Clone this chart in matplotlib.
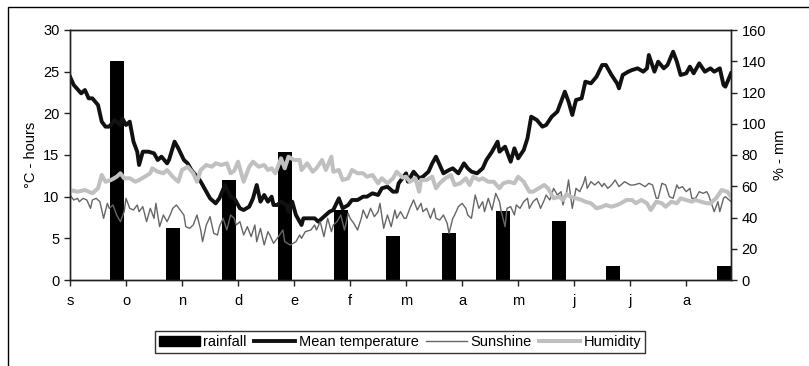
import matplotlib
matplotlib.use("Agg")
import matplotlib.pyplot as plt
from matplotlib.patches import Rectangle, Patch
from matplotlib.lines import Line2D

plt.rcParams['font.family'] = ['Liberation Sans', 'DejaVu Sans']

# ---- data (day since 1 Sep, value) ----
month_labels = ['s', 'o', 'n', 'd', 'e', 'f', 'm', 'a', 'm', 'j', 'j', 'a']
month_ticks = [0, 30, 60, 90, 120, 150, 180, 210, 240, 270, 300, 330]

rain_days = [25, 55, 85, 115, 145, 173, 203, 232, 262, 291, 350]
rain_mm = [140, 33, 64, 82, 45, 28, 30, 44, 38, 9, 9]

temp_points = [
    (0, 24.4), (2, 23.4), (6, 22.4), (8, 22.8), (10, 21.8), (12, 21.8), (15, 21.0),
    (17, 19.0), (19, 18.4), (21, 18.4), (24, 19.2), (27, 18.6), (28, 19.4), (30, 18.6),
    (32, 19.0), (34, 16.6), (36, 15.4), (37, 13.8), (39, 15.4), (42, 15.4), (45, 15.2),
    (47, 14.4), (49, 14.8), (52, 14.0), (53, 14.4), (56, 16.6), (58, 15.8), (61, 14.4),
    (63, 14.0), (65, 13.2), (68, 12.4), (70, 11.8), (72, 11.0), (75, 9.8), (78, 9.2),
    (80, 9.8), (83, 11.4), (86, 10.0), (88, 9.8), (91, 8.6), (93, 8.4), (96, 8.8),
    (98, 9.8), (100, 11.4), (102, 9.4), (104, 10.2), (106, 9.4), (108, 10.0), (109, 9.0),
    (111, 9.0), (113, 9.4), (116, 9.0), (117, 8.2), (119, 9.4), (121, 7.8), (124, 6.6),
    (125, 7.4), (128, 7.4), (131, 7.4), (133, 7.0), (136, 7.6), (139, 8.2), (141, 8.4),
    (144, 9.8), (146, 8.6), (149, 9.0), (151, 9.6), (154, 9.6), (157, 10.0), (159, 10.0),
    (162, 10.4), (165, 10.2), (167, 11.0), (170, 11.2), (173, 10.6), (175, 10.6),
    (176, 11.6), (180, 12.8), (181, 11.8), (184, 13.0), (187, 12.2), (189, 12.4),
    (192, 13.0), (194, 14.0), (196, 14.8), (198, 13.8), (200, 12.8), (203, 13.2),
    (205, 13.4), (208, 12.8), (211, 14.0), (213, 13.4), (215, 13.0), (218, 12.8),
    (221, 13.4), (223, 14.4), (226, 15.4), (229, 16.6), (230, 15.4), (233, 16.0),
    (236, 14.2), (238, 15.8), (240, 14.6), (243, 15.6), (245, 17.0), (247, 19.6),
    (250, 19.2), (253, 18.4), (255, 18.6), (258, 19.6), (261, 20.2), (263, 21.4),
    (265, 22.6), (267, 21.4), (269, 19.8), (271, 21.6), (274, 21.8), (276, 23.8),
    (279, 23.6), (282, 24.4), (285, 25.8), (287, 25.8), (290, 24.6), (293, 23.6),
    (294, 23.0), (296, 24.6), (299, 25.0), (301, 25.2), (304, 25.4), (307, 25.0),
    (309, 25.4), (310, 27.0), (313, 25.0), (315, 26.2), (318, 25.4), (320, 25.8),
    (323, 27.4), (325, 26.2), (327, 24.6), (330, 24.8), (332, 25.6), (334, 24.8),
    (337, 26.0), (340, 25.0), (343, 25.4), (345, 25.0), (348, 25.4), (350, 23.4),
    (351, 23.2), (354, 24.8),
]

sun_points = [
    (0, 10.2), (2, 9.6), (4, 9.8), (5, 9.4), (7, 9.8), (9, 9.6), (11, 8.6), (12, 9.6),
    (14, 9.8), (16, 9.4), (18, 7.4), (20, 9.2), (21, 8.6), (23, 9.0), (25, 7.8), (27, 7.0),
    (29, 8.2), (30, 9.8), (32, 8.6), (34, 8.4), (36, 9.0), (37, 8.2), (39, 8.8), (41, 7.0),
    (43, 8.6), (45, 7.4), (46, 9.2), (48, 6.4), (50, 7.8), (52, 7.0), (54, 8.0), (55, 8.6),
    (57, 9.0), (59, 8.4), (61, 7.8), (62, 6.4), (64, 6.2), (66, 6.6), (68, 7.8), (70, 6.0),
    (71, 4.6), (73, 6.6), (75, 7.6), (77, 5.6), (79, 5.4), (80, 6.4), (82, 7.4), (84, 6.0),
    (86, 7.8), (88, 7.4), (89, 6.6), (91, 7.0), (93, 5.4), (95, 6.4), (97, 5.2), (99, 6.6),
    (100, 4.6), (102, 6.2), (104, 4.2), (106, 5.8), (107, 5.4), (109, 4.4), (111, 5.0),
    (114, 6.0), (115, 4.6), (118, 4.2), (121, 4.6), (123, 5.4), (124, 5.0), (126, 5.8),
    (129, 6.0), (131, 6.6), (132, 6.0), (134, 7.0), (136, 5.2), (138, 7.4), (140, 5.8),
    (141, 6.6), (143, 7.0), (145, 7.8), (147, 6.0), (149, 8.0), (150, 7.4), (152, 6.8),
    (154, 6.0), (156, 7.4), (157, 8.4), (159, 7.4), (161, 8.6), (163, 7.6), (165, 8.2),
    (166, 9.2), (168, 6.2), (170, 7.8), (172, 6.4), (174, 8.4), (175, 7.4), (177, 8.2),
    (179, 7.4), (180, 7.4), (182, 8.6), (184, 9.6), (186, 8.4), (188, 9.2), (189, 8.2),
    (191, 8.6), (193, 7.4), (195, 8.6), (196, 7.4), (198, 7.2), (200, 7.8), (202, 6.8),
    (203, 5.6), (205, 7.4), (206, 7.8), (208, 8.8), (210, 9.2), (212, 8.6), (213, 7.8),
    (215, 7.4), (217, 10.2), (219, 8.6), (221, 9.4), (222, 8.2), (224, 9.8), (226, 8.4),
    (228, 10.4), (230, 9.4), (231, 8.2), (233, 6.4), (234, 8.6), (236, 8.8), (238, 7.8),
    (239, 9.0), (241, 8.6), (243, 9.4), (245, 9.8), (246, 8.6), (248, 9.4), (250, 9.8),
    (252, 8.6), (254, 9.6), (255, 10.2), (257, 9.6), (259, 11.0), (261, 10.2), (263, 10.6),
    (264, 9.0), (266, 10.6), (267, 12.0), (268, 10.2), (269, 8.6), (271, 11.0), (273, 10.6),
    (275, 11.6), (276, 12.4), (277, 11.0), (279, 11.8), (281, 11.4), (283, 11.8),
    (285, 11.2), (286, 11.6), (288, 11.0), (290, 11.4), (292, 12.0), (294, 11.2),
    (297, 11.8), (300, 11.4), (302, 11.4), (305, 11.6), (308, 11.2), (310, 11.6),
    (312, 11.4), (314, 9.8), (315, 9.8), (317, 11.6), (319, 11.4), (321, 10.0), (323, 9.8),
    (325, 11.4), (326, 11.0), (328, 11.2), (330, 10.6), (332, 11.0), (333, 9.8), (335, 9.8),
    (337, 10.6), (339, 10.4), (341, 10.6), (342, 10.2), (345, 8.2), (347, 9.4), (348, 8.2),
    (350, 9.8), (351, 10.0), (354, 9.4),
]

hum_points = [
    (0, 57.6), (4, 56.5), (8, 57.6), (12, 55.5), (15, 58.7), (17, 67.2), (19, 62.9),
    (22, 64.0), (25, 66.1), (27, 68.3), (29, 65.1), (32, 65.1), (35, 62.9), (37, 64.0),
    (40, 66.1), (43, 68.3), (44, 71.5), (47, 69.3), (50, 68.3), (52, 70.4), (55, 66.1),
    (58, 62.9), (60, 70.4), (63, 72.5), (66, 68.3), (68, 62.9), (70, 70.4), (73, 73.6),
    (76, 72.5), (78, 74.7), (81, 73.6), (84, 74.7), (86, 68.3), (88, 70.0), (90, 75.7),
    (93, 62.9), (96, 72.5), (98, 75.7), (101, 72.5), (104, 73.6), (106, 70.4), (108, 71.5),
    (110, 68.3), (113, 77.9), (115, 71.5), (117, 78.9), (120, 76.8), (123, 76.8),
    (124, 70.4), (127, 74.7), (130, 69.3), (132, 71.5), (135, 76.8), (137, 70.4),
    (140, 78.9), (141, 69.3), (144, 70.4), (146, 64.0), (149, 65.1), (151, 70.4),
    (154, 68.3), (157, 68.3), (159, 66.1), (162, 67.2), (165, 61.9), (167, 65.1),
    (170, 61.9), (173, 65.1), (175, 69.3), (178, 65.6), (180, 66.1), (182, 62.9),
    (185, 65.1), (187, 56.5), (188, 64.0), (191, 64.0), (194, 66.1), (196, 58.7),
    (198, 61.9), (201, 65.1), (204, 67.2), (206, 60.8), (209, 61.9), (212, 65.1),
    (214, 60.8), (216, 66.1), (219, 64.0), (221, 65.1), (224, 62.9), (227, 62.9),
    (230, 58.7), (232, 61.9), (235, 62.9), (238, 61.9), (240, 66.1), (243, 62.9),
    (246, 56.5), (248, 56.5), (251, 58.7), (254, 60.8), (256, 58.7), (259, 52.3),
    (262, 53.3), (264, 51.2), (266, 55.0), (268, 53.3), (271, 52.3), (274, 51.2),
    (276, 50.1), (279, 49.1), (282, 45.9), (285, 46.9), (287, 48.0), (290, 46.9),
    (293, 48.0), (295, 49.1), (298, 51.2), (301, 51.2), (303, 49.1), (306, 51.2),
    (309, 49.1), (311, 44.8), (314, 50.1), (317, 49.1), (319, 46.9), (322, 50.1),
    (325, 49.1), (327, 52.3), (330, 51.2), (333, 50.1), (335, 51.2), (338, 50.1),
    (341, 49.1), (343, 49.1), (346, 52.3), (349, 57.6), (352, 56.5), (354, 53.3),
]

series_names = ['rainfall', 'Mean temperature', 'Sunshine', 'Humidity']

# ---- figure ----
W, H = 809, 366
fig = plt.figure(figsize=(W / 100, H / 100), dpi=100)
rect = [70 / W, 1 - 280 / H, 661 / W, 250 / H]

# outer chart border (clipped by the image edge at right/bottom)
fig.add_artist(Rectangle((8 / W, -0.2), 1.2, (1 - 7 / H) + 0.2,
                         transform=fig.transFigure, fill=False,
                         edgecolor='black', linewidth=1.0))

axb = fig.add_axes(rect, zorder=1)
ax1 = fig.add_axes(rect, zorder=2, sharex=axb)
ax2 = ax1.twinx()
ax2.set_zorder(3)
ax1.patch.set_visible(False)
ax2.patch.set_visible(False)

# bars (right scale)
axb.bar(rain_days, rain_mm, width=7.5, color='black', zorder=1)
axb.set_ylim(0, 160)
axb.axis('off')

td, tv = zip(*temp_points)
sd, sv = zip(*sun_points)
hd, hv = zip(*hum_points)
ax1.plot(td, tv, color='#111111', linewidth=2.8, solid_joinstyle='round')
ax1.plot(sd, sv, color='#666666', linewidth=1.0)
ax2.plot(hd, hv, color='#c0c0c0', linewidth=2.9, solid_joinstyle='round')

ax1.set_xlim(0, 354)
ax1.set_ylim(0, 30)
ax2.set_ylim(0, 160)
ax1.set_yticks(range(0, 31, 5))
ax2.set_yticks(range(0, 161, 20))
ax1.set_xticks(month_ticks)
ax1.set_xticklabels(month_labels)

for ax in (ax1, ax2):
    for s in ax.spines.values():
        s.set_color('#222222')
        s.set_linewidth(1.0)
    ax.tick_params(direction='out', length=4, width=1, color='#222222',
                   labelsize=10.5, labelcolor='black')
ax1.tick_params(axis='x', pad=6)

ax1.set_ylabel('°C - hours', fontsize=10.5, labelpad=4)
ax2.set_ylabel('% - mm', fontsize=10.5, labelpad=5)

handles = [Patch(facecolor='black', edgecolor='black'),
           Line2D([], [], color='#111111', linewidth=2.8),
           Line2D([], [], color='#666666', linewidth=1.0),
           Line2D([], [], color='#c0c0c0', linewidth=2.9)]
leg = fig.legend(handles, series_names, loc='center',
                 bbox_to_anchor=(400 / W, 1 - 342 / H), ncol=4,
                 fontsize=10.5, frameon=True, fancybox=False,
                 handlelength=2.8, handletextpad=0.25, columnspacing=0.5,
                 borderpad=0.3, borderaxespad=0)
leg.get_frame().set_edgecolor('black')
leg.get_frame().set_linewidth(1.0)

fig.savefig('out.png', dpi=100)
